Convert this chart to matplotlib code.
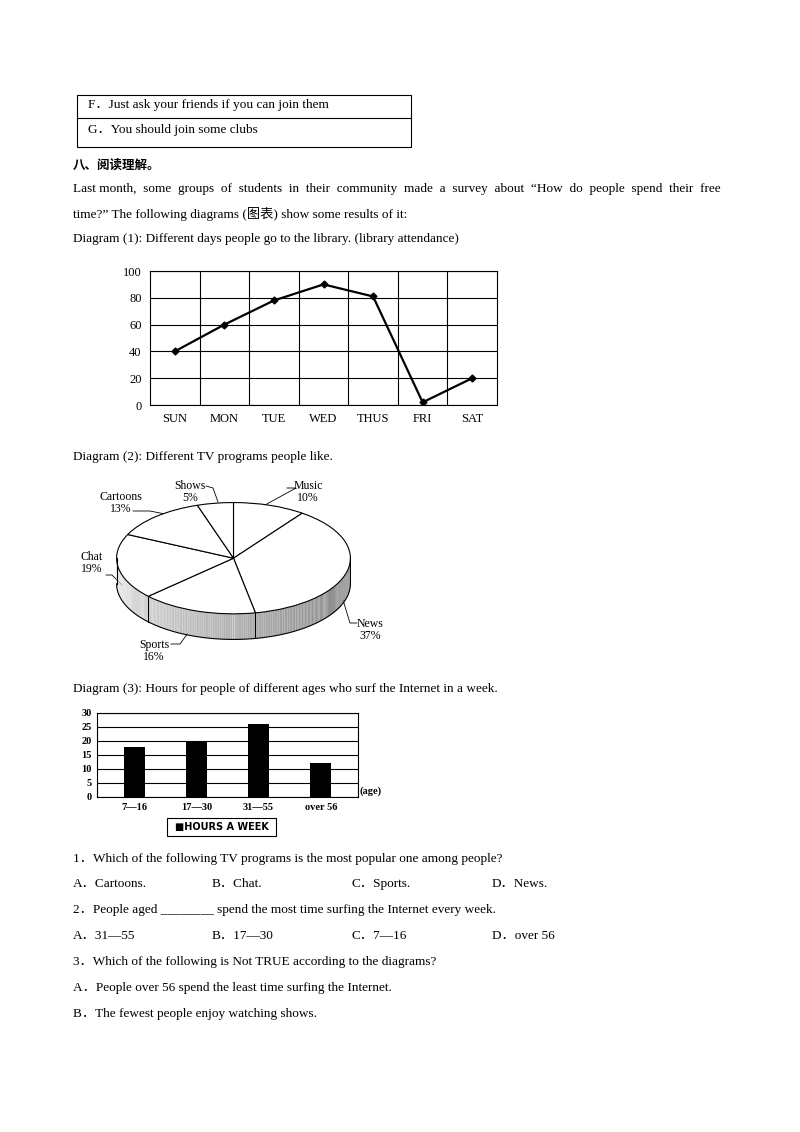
import matplotlib
matplotlib.use("Agg")
import matplotlib.pyplot as plt
import numpy as np
from matplotlib.patches import Rectangle

days = ["SUN", "MON", "TUE", "WED", "THUS", "FRI", "SAT"]
attendance = [40, 60, 78, 90, 81, 2, 20]
programs = ["Music", "News", "Sports", "Chat", "Cartoons", "Shows"]
shares = [10, 37, 16, 19, 13, 5]
ages = ["7\u201416", "17\u201430", "31\u201455", "over 56"]
hours = [18, 20, 26, 12]

W, H = 800, 1132
fig = plt.figure(figsize=(8, 11.32), dpi=100)
fig.patch.set_facecolor("white")
FONT = ["Liberation Serif", "Noto Sans CJK SC"]
FS = 9.5

page = fig.add_axes([0, 0, 1, 1])
page.set_xlim(0, W); page.set_ylim(H, 0); page.axis("off")

def t(x, y, s, **kw):
    kw.setdefault("fontsize", FS)
    kw.setdefault("family", FONT)
    page.text(x, y, s, va="center", **kw)

page.add_patch(Rectangle((77, 95), 334, 52, fill=False, lw=0.8, ec="black"))
page.plot([77, 411], [118, 118], color="black", lw=0.8)
t(88, 105, "F．Just ask your friends if you can join them")
t(88, 130, "G．You should join some clubs")
t(73, 165, "八、阅读理解。", fontweight="bold", family=["Noto Sans CJK SC"], fontsize=9)
t(73, 189, "Last month,  some  groups  of  students  in  their  community  made  a  survey  about  \u201cHow  do  people  spend  their  free")
t(73, 214, "time?\u201d The following diagrams (图表) show some results of it:")
t(73, 239, "Diagram (1): Different days people go to the library. (library attendance)")
t(73, 457, "Diagram (2): Different TV programs people like.")
t(73, 689, "Diagram (3): Hours for people of different ages who surf the Internet in a week.")
t(73, 859, "1．Which of the following TV programs is the most popular one among people?")
for x, s in zip([73, 212, 352, 492], ["A．Cartoons.", "B．Chat.", "C．Sports.", "D．News."]):
    t(x, 884, s)
t(73, 910, "2．People aged ________ spend the most time surfing the Internet every week.")
for x, s in zip([73, 212, 352, 492], ["A．31\u201455", "B．17\u201430", "C．7\u201416", "D．over 56"]):
    t(x, 936, s)
t(73, 962, "3．Which of the following is Not TRUE according to the diagrams?")
t(73, 988, "A．People over 56 spend the least time surfing the Internet.")
t(73, 1014, "B．The fewest people enjoy watching shows.")

def rect(x0, y0, x1, y1):
    return [x0 / W, 1 - y1 / H, (x1 - x0) / W, (y1 - y0) / H]

# Diagram 1
ax1 = fig.add_axes(rect(150, 271, 497, 405))
xs = np.arange(len(days))
ax1.plot(xs, attendance, color="black", lw=1.6, marker="D", ms=3.5)
ax1.set_xlim(-0.5, len(days) - 0.5); ax1.set_ylim(0, 100)
ax1.set_yticks(range(0, 101, 20))
ax1.set_xticks(xs, days)
for v in np.arange(0.5, len(days) - 0.5):
    ax1.axvline(v, color="black", lw=0.8)
ax1.grid(axis="y", color="black", lw=0.8)
ax1.tick_params(length=0, labelsize=9, pad=6)
for lab in ax1.get_xticklabels() + ax1.get_yticklabels():
    lab.set_family(FONT)
for sp in ax1.spines.values():
    sp.set_linewidth(0.8)

# Diagram 2 (pseudo-3D pie)
ax2 = fig.add_axes(rect(116, 502, 351, 640))
thick = 0.46
ax2.set_xlim(-1.005, 1.005); ax2.set_ylim(-1 - thick - 0.01, 1.01); ax2.axis("off")
th = np.linspace(np.pi, 2 * np.pi, 200)
for i in range(len(th) - 1):
    a, b = th[i], th[i + 1]
    xx = [np.cos(a), np.cos(b), np.cos(b), np.cos(a)]
    yy = [np.sin(a), np.sin(b), np.sin(b) - thick, np.sin(a) - thick]
    g = 0.92 - 0.45 * (i / len(th))
    ax2.fill(xx, yy, color=str(g), lw=0)
ax2.plot(np.cos(th), np.sin(th) - thick, color="black", lw=0.8)
ax2.plot([-1, -1], [0, -thick], color="black", lw=0.8)
ax2.plot([1, 1], [0, -thick], color="black", lw=0.8)
wedges, _ = ax2.pie(shares, startangle=90, counterclock=False, radius=1,
                    wedgeprops=dict(facecolor="white", edgecolor="black", linewidth=0.8))
ax2.set_aspect("auto")
ax2.set_xlim(-1.005, 1.005); ax2.set_ylim(-1 - thick - 0.01, 1.01)
ang = 90 - np.cumsum(shares) * 3.6
for a in ang:
    r = np.deg2rad(a)
    if np.sin(r) < 0:
        ax2.plot([np.cos(r)] * 2, [np.sin(r), np.sin(r) - thick], color="black", lw=0.8)
lab_fs = 8.5
page.text(308, 492, "Music\n10%", ha="center", va="center", fontsize=lab_fs, family=FONT, linespacing=0.95)
page.text(190, 492, "Shows\n5%", ha="center", va="center", fontsize=lab_fs, family=FONT, linespacing=0.95)
page.text(121, 503, "Cartoons\n13%", ha="center", va="center", fontsize=lab_fs, family=FONT, linespacing=0.95)
page.text(92, 563, "Chat\n19%", ha="center", va="center", fontsize=lab_fs, family=FONT, linespacing=0.95)
page.text(370, 630, "News\n37%", ha="center", va="center", fontsize=lab_fs, family=FONT, linespacing=0.95)
page.text(154, 651, "Sports\n16%", ha="center", va="center", fontsize=lab_fs, family=FONT, linespacing=0.95)
for seg in [([287, 296, 265], [488, 488, 505]), ([206, 213, 218], [486, 488, 502]),
            ([133, 150, 165], [511, 511, 514]), ([106, 112, 122], [575, 575, 585]),
            ([343, 350, 357], [600, 623, 623]), ([171, 180, 188], [644, 644, 633])]:
    page.plot(seg[0], seg[1], color="black", lw=0.6)

# Diagram 3
ax3 = fig.add_axes(rect(97, 713, 358, 797))
bx = np.arange(len(ages))
ax3.bar(bx, hours, width=0.33, color="black")
ax3.set_xlim(-0.6, len(ages) - 0.4); ax3.set_ylim(0, 30)
ax3.set_yticks(range(0, 31, 5))
ax3.set_xticks(bx, ages)
ax3.grid(axis="y", color="black", lw=0.8); ax3.set_axisbelow(True)
ax3.tick_params(length=0, labelsize=7.5, pad=4)
for lab in ax3.get_xticklabels() + ax3.get_yticklabels():
    lab.set_fontweight("bold"); lab.set_family(FONT)
for sp in ax3.spines.values():
    sp.set_linewidth(0.8)
page.text(360, 791, "(age)", fontsize=7.5, fontweight="bold", family=FONT, va="center")
page.add_patch(Rectangle((167, 818), 109, 18, fill=False, lw=0.8, ec="black"))
page.text(175, 827, "\u25a0HOURS A WEEK", fontsize=7, fontweight="bold", family=["DejaVu Sans"], va="center")

fig.savefig("out.png", dpi=100, facecolor="white")
